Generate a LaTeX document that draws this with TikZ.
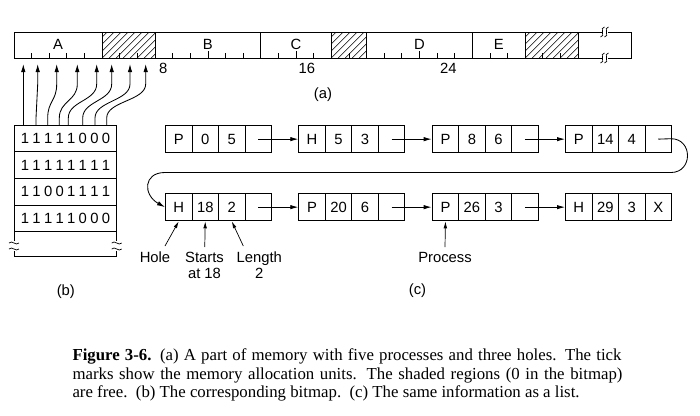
\documentclass[tikz,border=0pt]{standalone}
\usepackage{fontspec}
\setmainfont{Liberation Serif}
\setsansfont{Liberation Sans}
\usetikzlibrary{arrows.meta}
\newcommand\listbox[7]{%
  \node[cell] (#1a) at (#2,#3) {#4};
  \node[cell] (#1b) at (#2+26.5,#3) {#5};
  \node[cell] (#1c) at (#2+53,#3) {#6};
  \node[cell] (#1d) at (#2+79.5,#3) {#7};}
\begin{document}
\begin{tikzpicture}[x=1pt,y=-1pt,line width=1pt,
  lbl/.style={font=\sffamily\fontsize{14.8}{17}\selectfont, inner sep=0pt},
  cell/.style={draw, line width=1pt, minimum width=26.5pt, minimum height=27.3pt, anchor=north west, inner sep=0pt, font=\sffamily\fontsize{14.8}{17}\selectfont},
  arr/.style={-{Latex[length=8pt,width=4.4pt]}, line width=0.85pt},
  arrs/.style={-{Latex[length=7pt,width=3.6pt]}, line width=0.7pt},
  hatch/.style={line width=0.5pt},
  tick/.style={line width=0.85pt},
  brk/.style={line width=0.7pt},
  capt/.style={font=\fontsize{16.8}{18}\selectfont, inner sep=0pt, anchor=base west}
]
\useasboundingbox (0,0) rectangle (700,415);
\def\U{17.63}
% ---------- (a) memory bar ----------
\foreach \a/\b in {5/8,18/20,29/32}{
  \begin{scope}
    \clip (14+\a*\U,32) rectangle (14+\b*\U,58);
    \foreach \k in {0,7,...,98} \draw[hatch] (14+\a*\U+\k-28,58) -- (14+\a*\U+\k-2,32);
  \end{scope}
}
\draw (602,32) -- (14,32) -- (14,58) -- (602,58);
\draw (608,32) -- (631,32) -- (631,58) -- (608,58);
\foreach \b in {5,8,14,18,20,26,29,32} \draw (14+\b*\U,32) -- (14+\b*\U,58);
\foreach \i in {1,2,3,4,6,7,9,10,12,13,15,17,19,21,22,24,25,27,28,30,31}
  \draw[tick] (14+\i*\U,58) -- (14+\i*\U,52.5);
\foreach \i in {11,16,23} \draw[tick] (14+\i*\U,58) -- (14+\i*\U,50.5);
\foreach \y in {32,58} \foreach \x in {602.5,606.5}
  \draw[brk] (\x+2,\y-5) .. controls (\x-3.5,\y-5) and (\x+3.5,\y+5) .. (\x-2,\y+5);
\node[lbl,anchor=base] (lA) at (14+2.5*\U,49.5) {A};
\node[lbl,anchor=base] (lB) at (14+11*\U,49.5) {B};
\node[lbl,anchor=base] (lC) at (14+16*\U,49.5) {C};
\node[lbl,anchor=base] (lD) at (14+23*\U,49.5) {D};
\node[lbl,anchor=base] (lE) at (14+27.5*\U,49.5) {E};
\node[lbl,anchor=base west] (n8) at (14+8*\U+3.5,73) {8};
\node[lbl,anchor=base west] (n16) at (14+16*\U+2,73) {16};
\node[lbl,anchor=base west] (n24) at (14+24*\U+2.5,73) {24};
\node[lbl,anchor=base] (capa) at (323,98) {(a)};
% ---------- (b) bitmap ----------
\draw (14,241) -- (14,125) -- (116.7,125) -- (116.7,241);
\draw (14,251) -- (14,256.7) -- (116.7,256.7) -- (116.7,251);
\foreach \y in {151.7,178.3,205,231.7} \draw (14,\y) -- (116.7,\y);
\foreach \x in {14,116.7} \foreach \y in {243,249}
  \draw[brk] (\x-5,\y) .. controls (\x-2,\y-3.5) and (\x+2,\y+3.5) .. (\x+5,\y);
\foreach \row/\yb in {{1,1,1,1,1,0,0,0}/143.5,{1,1,1,1,1,1,1,1}/170.2,{1,1,0,0,1,1,1,1}/196.9,{1,1,1,1,1,0,0,0}/223.5}{
  \foreach \d [count=\i from 0] in \row
    \node[lbl,anchor=base] (bit\yb-\i) at (25+11.57*\i,\yb) {\d};
}
\foreach \xb/\xt [count=\i] in {23.3/23.3,36/37.7,47.7/56.7,59.3/77.3,68.3/96.7,82.7/111.7,95/130,106.7/145.7}{
  \coordinate (bt\i) at (\xb,125);
  \coordinate (mb\i) at (\xt,64);
  \draw[arr] (bt\i) -- (\xb,118) .. controls (\xb,101) and (\xt,101) .. (\xt,84) -- (mb\i);
}
\node[lbl,anchor=base] (capb) at (65.8,295.5) {(b)};
% ---------- (c) list ----------
\listbox{p1}{165}{125}{P}{0}{5}{}
\listbox{p2}{298.3}{125}{H}{5}{3}{}
\listbox{p3}{431.7}{125}{P}{8}{6}{}
\listbox{p4}{565}{125}{P}{14}{4}{}
\listbox{q1}{165}{193}{H}{18}{2}{}
\listbox{q2}{298.3}{193}{P}{20}{6}{}
\listbox{q3}{431.7}{193}{P}{26}{3}{}
\listbox{q4}{565}{193}{H}{29}{3}{X}
\draw[arr] (p1d.center) -- (p2a.west);
\draw[arr] (p2d.center) -- (p3a.west);
\draw[arr] (p3d.center) -- (p4a.west);
\draw[arr] (q1d.center) -- (q2a.west);
\draw[arr] (q2d.center) -- (q3a.west);
\draw[arr] (q3d.center) -- (q4a.west);
\draw[arr] (p4d.center) -- (671,138.7) .. controls (693,138.7) and (693,172.5) .. (671,172.5)
  -- (165,172.5) .. controls (143,172.5) and (143,195) .. (q1a.west);
\node[lbl,anchor=base] (hole) at (155,262) {Hole};
\node[lbl,anchor=base] (starts) at (204.5,262) {Starts};
\node[lbl,anchor=base] (at18) at (204.5,278.5) {at 18};
\node[lbl,anchor=base] (length) at (259.3,262) {Length};
\node[lbl,anchor=base] (two) at (259.3,278.5) {2};
\node[lbl,anchor=base] (proc) at (445,262) {Process};
\coordinate (holeT) at (165,246);
\coordinate (startsT) at (204.75,247);
\coordinate (lengthT) at (243.3,246);
\coordinate (procT) at (445,247);
\draw[arrs] (holeT) -- (q1a.south);
\draw[arrs] (startsT) -- (q1b.south);
\draw[arrs] (lengthT) -- (q1c.south);
\draw[arrs] (procT) -- (q3a.south);
\node[lbl,anchor=base] (capc) at (417.5,294.5) {(c)};
% ---------- caption ----------
\node[capt] (cap1) at (72,360.7) {\makebox[549pt][s]{\textbf{Figure 3-6.} (a) A part of memory with five processes and three holes. The tick}};
\node[capt] (cap2) at (72,379) {\makebox[550pt][s]{marks show the memory allocation units. The shaded regions (0 in the bitmap)}};
\node[capt] (cap3) at (72,397.2) {are free.\ \ (b) The corresponding bitmap.\ \ (c) The same information as a list.};
\end{tikzpicture}
\end{document}
